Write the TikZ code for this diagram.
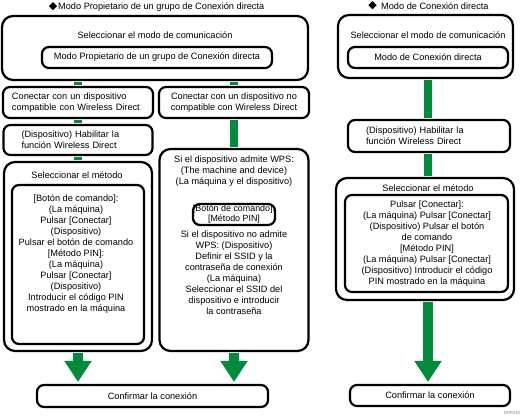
\documentclass[tikz,border=0pt]{standalone}
\usepackage{fontspec}
\setmainfont{Liberation Sans}
\newfontfamily\dejavu{DejaVu Sans}
\usetikzlibrary{arrows.meta}
\definecolor{flowgreen}{RGB}{0,140,58}
\begin{document}
\begin{tikzpicture}[x=1pt,y=-1pt,
  font=\fontsize{9.2}{11}\selectfont,
  box/.style={draw, line width=2.2pt, rounded corners=7pt, inner sep=0pt, fill=white},
  bigbox/.style={box, rounded corners=11pt},
  gline/.style={draw=flowgreen, line width=8pt, shorten <=1pt, shorten >=1pt},
  garrow/.style={draw=flowgreen, line width=10pt, shorten <=1pt, shorten >=2pt,
    -{Triangle[width=26pt,length=21pt]}},
  txt/.style={align=center, inner sep=0pt},
  dia/.style={txt, font=\dejavu\fontsize{11}{11}\selectfont},
  small/.style={font=\fontsize{8.9}{10}\selectfont}]
\useasboundingbox (0,0) rectangle (524,419);
% ---------- left panel ----------
\node[dia, anchor=east] (ldia) at (57.5,7) {◆};
\node[txt, anchor=west] (ltitle) at (58,7) {Modo Propietario de un grupo de Conexión directa};
\node[bigbox, minimum width=306, minimum height=64] (ltop) at (155,48) {};
\node[txt] (ltopt) at (155,35) {Seleccionar el modo de comunicación};
\node[box, minimum width=230, minimum height=21] (ltopi) at (157,57.5) {Modo Propietario de un grupo de Conexión directa};
\node[box, minimum width=150, minimum height=31, text width=132, align=left, inner xsep=9pt] (lcomp) at (78,102.5) {Conectar con un dispositivo\\compatible con Wireless Direct};
\node[box, minimum width=150, minimum height=31, align=center] (lnc) at (234,102.5) {Conectar con un dispositivo no\\compatible con Wireless Direct};
\node[box, minimum width=149, minimum height=30, text width=113, align=left, inner xsep=18pt] (lhab) at (78,140) {(Dispositivo) Habilitar la\\función Wireless Direct};
\node[bigbox, minimum width=148, minimum height=189] (lsel) at (78,256.5) {};
\node[txt] (lselt) at (77,175) {Seleccionar el método};
\node[box, minimum width=132, minimum height=159] (lseli) at (78,264.5) {};
\node[txt] (lselx) at (76,254) {{[}Botón de comando{]}:\\(La máquina)\\Pulsar {[}Conectar{]}\\(Dispositivo)\\Pulsar el botón de comando\\{[}Método PIN{]}:\\(La máquina)\\Pulsar {[}Conectar{]}\\(Dispositivo)\\Introducir el código PIN\\mostrado en la máquina};
\node[bigbox, minimum width=149, minimum height=202] (lbig) at (234,250) {};
\node[txt] (lbigt) at (234,171) {Si el dispositivo admite WPS:\\(The machine and device)\\(La máquina y el dispositivo)};
\node[box, small, minimum width=82, minimum height=21, align=center] (lbigi) at (234,214.5) {{[}Botón de comando{]}:\\{[}Método PIN{]}};
\node[txt] (lbigx) at (234,273) {Si el dispositivo no admite\\WPS: (Dispositivo)\\Definir el SSID y la\\contraseña de conexión\\(La máquina)\\Seleccionar el SSID del\\dispositivo e introducir\\la contraseña};
\node[box, minimum width=231, minimum height=22] (lconf) at (152.5,396) {Confirmar la conexión};
\draw[gline] (lcomp.north |- ltop.south) -- (lcomp.north);
\draw[gline] (lnc.north |- ltop.south) -- (lnc.north);
\draw[gline] (lcomp.south) -- (lhab.north);
\draw[gline] (lhab.south) -- (lsel.north);
\draw[gline] (lnc.south) -- (lbig.north);
\draw[garrow] (lsel.south) -- (lsel.south |- lconf.north);
\draw[garrow] (lbig.south) -- (lbig.south |- lconf.north);
% ---------- right panel ----------
\node[dia, anchor=east] (rdia) at (377,6) {◆};
\node[txt, anchor=west] (rtitle) at (381,6) {Modo de Conexión directa};
\node[bigbox, minimum width=175, minimum height=63] (rtop) at (425.5,46.5) {};
\node[txt] (rtopt) at (428,35) {Seleccionar el modo de comunicación};
\node[box, minimum width=160, minimum height=21] (rtopi) at (428,57.5) {Modo de Conexión directa};
\node[box, minimum width=162, minimum height=32, text width=126, align=left, inner xsep=18pt] (rhab) at (429,136) {(Dispositivo) Habilitar la\\función Wireless Direct};
\node[bigbox, minimum width=178, minimum height=122] (rsel) at (425,239) {};
\node[txt] (rselt) at (428,188) {Seleccionar el método};
\node[box, minimum width=163, minimum height=97] (rseli) at (426.5,243.5) {};
\node[txt] (rselx) at (427,244) {Pulsar {[}Conectar{]}:\\(La máquina) Pulsar {[}Conectar{]}\\(Dispositivo) Pulsar el botón\\de comando\\{[}Método PIN{]}\\(La máquina) Pulsar {[}Conectar{]}\\(Dispositivo) Introducir el código\\PIN mostrado en la máquina};
\node[box, minimum width=160, minimum height=21] (rconf) at (430,395.5) {Confirmar la conexión};
\draw[gline] (rtop.south -| rtopi) -- (rhab.north -| rtopi);
\draw[gline] (rhab.south -| rtopi) -- (rsel.north -| rtopi);
\draw[garrow] (rsel.south -| rtopi) -- (rconf.north -| rtopi);
\node[txt, font=\fontsize{4.5}{5}\selectfont, text=gray] (code) at (512,413) {D0P010};
\end{tikzpicture}
\end{document}
